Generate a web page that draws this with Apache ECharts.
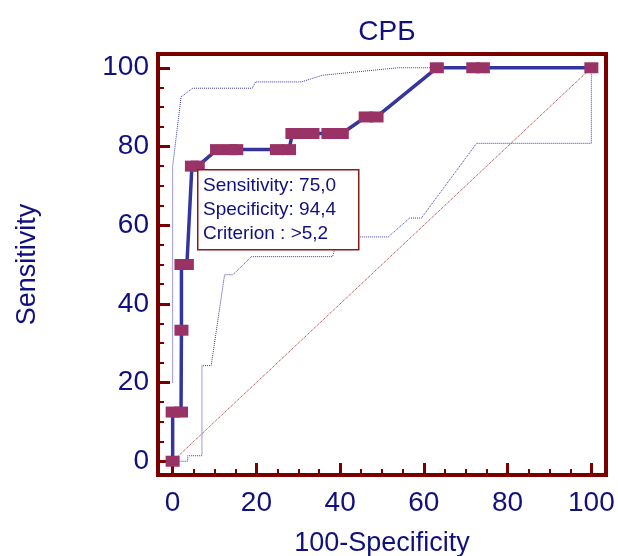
<!DOCTYPE html>
<html>
<head>
<meta charset="utf-8">
<script src="https://cdn.jsdelivr.net/npm/echarts@6/dist/echarts.min.js"></script>
<style>
  html, body { margin: 0; padding: 0; background: #fff; }
  #roc { width: 618px; height: 556px; }
</style>
</head>
<body>
<div id="roc"></div>
<script>
// ROC curve points [100-Specificity, Sensitivity]
const rocCurve = [
  [0, 0], [0, 12.5], [2.0, 12.5], [2.1, 33.3], [2.1, 50], [3.4, 50],
  [4.6, 75], [6.0, 75], [10.6, 79.2], [13.8, 79.2], [15.2, 79.2],
  [24.9, 79.2], [27.8, 79.2], [28.6, 83.3], [31.0, 83.3], [33.4, 83.3],
  [37.2, 83.3], [40.4, 83.3], [46.1, 87.5], [48.7, 87.5], [63.1, 100],
  [71.8, 100], [74.1, 100], [100, 100]
];
// upper and lower confidence bounds
const upperBound = [
  [0, 20], [0, 75], [2.0, 92.6], [4.8, 94.8], [19.0, 94.8], [19.8, 96.4],
  [30.7, 96.4], [35.8, 98.1], [53.8, 100], [100, 100]
];
const lowerBound = [
  [0, 0], [3.6, 0], [3.6, 1.4], [7.0, 1.4], [7.0, 24.3], [9.2, 24.3],
  [12.4, 47.4], [14.4, 47.4], [18.8, 52], [38.2, 52], [39.5, 57],
  [51.5, 57], [56.6, 61.8], [59.4, 61.8], [72.6, 80.8], [100, 80.8], [100, 100]
];
const diagonal = [[0, 0], [100, 100]];

const majorTicks = [0, 20, 40, 60, 80, 100];
const minorTicks = [5, 10, 15, 25, 30, 35, 45, 50, 55, 65, 70, 75, 85, 90, 95];

const infoLines = ['Sensitivity: 75,0', 'Specificity: 94,4', 'Criterion : >5,2'];

const axisRed = '#7a0000';
const textBlue = '#10107f';
const fontFam = "'Liberation Sans', Arial, sans-serif";

const chart = echarts.init(document.getElementById('roc'), null, { renderer: 'canvas' });

function majorAxis(name, isX) {
  return {
    type: 'value',
    min: -3.5,
    max: 103.5,
    name: name,
    nameLocation: 'middle',
    nameGap: isX ? 55 : 117,
    nameTextStyle: { color: textBlue, fontSize: 27, fontFamily: fontFam },
    axisLine: { show: true, onZero: false, lineStyle: { color: axisRed, width: 4 } },
    axisTick: { show: true, inside: true, length: 12, customValues: majorTicks,
      lineStyle: { color: axisRed, width: 3 } },
    axisLabel: { show: true, customValues: majorTicks, margin: isX ? 14 : 9,
      color: textBlue, fontSize: 28, fontFamily: fontFam },
    splitLine: { show: false }
  };
}
function minorAxis() {
  return {
    type: 'value',
    min: -3.5,
    max: 103.5,
    axisLine: { show: false, onZero: false },
    axisTick: { show: true, inside: true, length: 6, customValues: minorTicks,
      lineStyle: { color: axisRed, width: 2 } },
    axisLabel: { show: false },
    splitLine: { show: false }
  };
}

const option = {
  animation: false,
  backgroundColor: '#fff',
  title: {
    text: 'СРБ',
    left: 382,
    textAlign: 'center',
    top: 13,
    textStyle: { color: textBlue, fontSize: 28, fontWeight: 'normal', fontFamily: fontFam }
  },
  grid: {
    left: 158, right: 12, top: 54, bottom: 81,
    outerBoundsMode: 'none', containLabel: false,
    show: true, borderColor: axisRed, borderWidth: 4, backgroundColor: 'transparent'
  },
  xAxis: [
    Object.assign(majorAxis('100-Specificity', true), { position: 'bottom' }),
    Object.assign(minorAxis(), { position: 'bottom' })
  ],
  yAxis: [
    Object.assign(majorAxis('Sensitivity', false), { position: 'left' }),
    Object.assign(minorAxis(), { position: 'left' })
  ],
  series: [
    {
      type: 'line', data: diagonal, showSymbol: false, silent: true, z: 1,
      lineStyle: { color: '#a82020', width: 1, type: 'dotted' }
    },
    {
      type: 'line', data: upperBound, showSymbol: false, silent: true, z: 1,
      lineStyle: { color: '#3a3aaa', width: 1, type: 'dotted' }
    },
    {
      type: 'line', data: lowerBound, showSymbol: false, silent: true, z: 1,
      lineStyle: { color: '#3a3aaa', width: 1, type: 'dotted' }
    },
    {
      type: 'line', data: rocCurve, silent: true, z: 3,
      symbol: 'rect', symbolSize: [14, 11], showAllSymbol: true,
      lineStyle: { color: '#3535a0', width: 3.5 },
      itemStyle: { color: '#993366' }
    }
  ],
  graphic: [
    {
      type: 'rect', left: 197, top: 169, z: 100,
      shape: { x: 0, y: 0, width: 161, height: 80 },
      style: { fill: '#fff', stroke: '#8a1a1a', lineWidth: 1.5 }
    },
    {
      type: 'text', left: 203, top: 174, z: 101,
      style: { text: infoLines.join('\n'), fill: textBlue, fontSize: 19,
        lineHeight: 24, fontFamily: fontFam }
    }
  ]
};

chart.setOption(option);
window.addEventListener('resize', function () { chart.resize(); });
</script>
</body>
</html>
